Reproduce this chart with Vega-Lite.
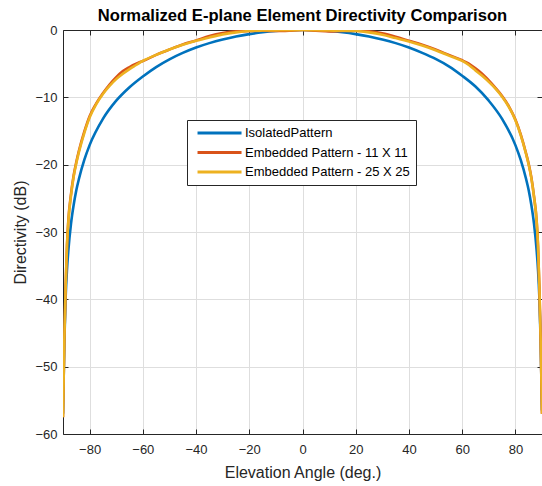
{
  "$schema": "https://vega.github.io/schema/vega-lite/v6.json",
  "width": 479,
  "height": 404,
  "autosize": {"type": "none"},
  "padding": {"left": 63, "top": 30, "right": 0, "bottom": 52},
  "background": "white",
  "title": {"text": "Normalized E-plane Element Directivity Comparison", "font": "Liberation Sans", "fontSize": 16.6, "fontWeight": "bold", "color": "#000000", "anchor": "middle", "offset": -1},
  "datasets": {
    "pat": [
      {"a": -90, "d": -57, "s": "IsolatedPattern"},
      {"a": -89.5, "d": -46.3, "s": "IsolatedPattern"},
      {"a": -89, "d": -39.6, "s": "IsolatedPattern"},
      {"a": -88.5, "d": -35.6, "s": "IsolatedPattern"},
      {"a": -88, "d": -32.8, "s": "IsolatedPattern"},
      {"a": -87, "d": -28.8, "s": "IsolatedPattern"},
      {"a": -86, "d": -26.0, "s": "IsolatedPattern"},
      {"a": -85, "d": -23.8, "s": "IsolatedPattern"},
      {"a": -84, "d": -22.1, "s": "IsolatedPattern"},
      {"a": -82, "d": -19.3, "s": "IsolatedPattern"},
      {"a": -80, "d": -17.1, "s": "IsolatedPattern"},
      {"a": -75, "d": -13.2, "s": "IsolatedPattern"},
      {"a": -70, "d": -10.5, "s": "IsolatedPattern"},
      {"a": -65, "d": -8.5, "s": "IsolatedPattern"},
      {"a": -60, "d": -6.9, "s": "IsolatedPattern"},
      {"a": -55, "d": -5.5, "s": "IsolatedPattern"},
      {"a": -50, "d": -4.35, "s": "IsolatedPattern"},
      {"a": -45, "d": -3.4, "s": "IsolatedPattern"},
      {"a": -40, "d": -2.6, "s": "IsolatedPattern"},
      {"a": -35, "d": -1.95, "s": "IsolatedPattern"},
      {"a": -30, "d": -1.41, "s": "IsolatedPattern"},
      {"a": -25, "d": -0.96, "s": "IsolatedPattern"},
      {"a": -20, "d": -0.61, "s": "IsolatedPattern"},
      {"a": -15, "d": -0.34, "s": "IsolatedPattern"},
      {"a": -10, "d": -0.15, "s": "IsolatedPattern"},
      {"a": -5, "d": -0.04, "s": "IsolatedPattern"},
      {"a": 0, "d": 0, "s": "IsolatedPattern"},
      {"a": 5, "d": -0.04, "s": "IsolatedPattern"},
      {"a": 10, "d": -0.15, "s": "IsolatedPattern"},
      {"a": 15, "d": -0.34, "s": "IsolatedPattern"},
      {"a": 20, "d": -0.61, "s": "IsolatedPattern"},
      {"a": 25, "d": -0.96, "s": "IsolatedPattern"},
      {"a": 30, "d": -1.41, "s": "IsolatedPattern"},
      {"a": 35, "d": -1.95, "s": "IsolatedPattern"},
      {"a": 40, "d": -2.6, "s": "IsolatedPattern"},
      {"a": 45, "d": -3.4, "s": "IsolatedPattern"},
      {"a": 50, "d": -4.3, "s": "IsolatedPattern"},
      {"a": 55, "d": -5.4, "s": "IsolatedPattern"},
      {"a": 60, "d": -6.8, "s": "IsolatedPattern"},
      {"a": 65, "d": -8.4, "s": "IsolatedPattern"},
      {"a": 70, "d": -10.5, "s": "IsolatedPattern"},
      {"a": 75, "d": -13.2, "s": "IsolatedPattern"},
      {"a": 80, "d": -17.1, "s": "IsolatedPattern"},
      {"a": 82, "d": -19.3, "s": "IsolatedPattern"},
      {"a": 84, "d": -22.1, "s": "IsolatedPattern"},
      {"a": 85, "d": -23.8, "s": "IsolatedPattern"},
      {"a": 86, "d": -26.0, "s": "IsolatedPattern"},
      {"a": 87, "d": -28.8, "s": "IsolatedPattern"},
      {"a": 88, "d": -32.8, "s": "IsolatedPattern"},
      {"a": 88.5, "d": -35.6, "s": "IsolatedPattern"},
      {"a": 89, "d": -39.6, "s": "IsolatedPattern"},
      {"a": 89.5, "d": -46.3, "s": "IsolatedPattern"},
      {"a": 90, "d": -56.5, "s": "IsolatedPattern"},

      {"a": -90, "d": -57.5, "s": "Embedded Pattern - 11 X 11"},
      {"a": -89.5, "d": -46, "s": "Embedded Pattern - 11 X 11"},
      {"a": -89, "d": -38, "s": "Embedded Pattern - 11 X 11"},
      {"a": -88.5, "d": -32, "s": "Embedded Pattern - 11 X 11"},
      {"a": -88, "d": -28.3, "s": "Embedded Pattern - 11 X 11"},
      {"a": -87, "d": -24.4, "s": "Embedded Pattern - 11 X 11"},
      {"a": -86, "d": -21.6, "s": "Embedded Pattern - 11 X 11"},
      {"a": -85, "d": -19.6, "s": "Embedded Pattern - 11 X 11"},
      {"a": -84, "d": -17.9, "s": "Embedded Pattern - 11 X 11"},
      {"a": -82, "d": -15.1, "s": "Embedded Pattern - 11 X 11"},
      {"a": -80, "d": -12.8, "s": "Embedded Pattern - 11 X 11"},
      {"a": -77.5, "d": -10.9, "s": "Embedded Pattern - 11 X 11"},
      {"a": -75, "d": -9.4, "s": "Embedded Pattern - 11 X 11"},
      {"a": -72.5, "d": -8.1, "s": "Embedded Pattern - 11 X 11"},
      {"a": -70, "d": -7.0, "s": "Embedded Pattern - 11 X 11"},
      {"a": -67.5, "d": -6.1, "s": "Embedded Pattern - 11 X 11"},
      {"a": -65, "d": -5.5, "s": "Embedded Pattern - 11 X 11"},
      {"a": -62.5, "d": -5.0, "s": "Embedded Pattern - 11 X 11"},
      {"a": -60, "d": -4.6, "s": "Embedded Pattern - 11 X 11"},
      {"a": -55, "d": -3.7, "s": "Embedded Pattern - 11 X 11"},
      {"a": -50, "d": -2.9, "s": "Embedded Pattern - 11 X 11"},
      {"a": -45, "d": -2.15, "s": "Embedded Pattern - 11 X 11"},
      {"a": -40, "d": -1.55, "s": "Embedded Pattern - 11 X 11"},
      {"a": -35, "d": -0.9, "s": "Embedded Pattern - 11 X 11"},
      {"a": -30, "d": -0.45, "s": "Embedded Pattern - 11 X 11"},
      {"a": -25, "d": -0.2, "s": "Embedded Pattern - 11 X 11"},
      {"a": -20, "d": -0.15, "s": "Embedded Pattern - 11 X 11"},
      {"a": -15, "d": -0.1, "s": "Embedded Pattern - 11 X 11"},
      {"a": -10, "d": -0.15, "s": "Embedded Pattern - 11 X 11"},
      {"a": -5, "d": -0.1, "s": "Embedded Pattern - 11 X 11"},
      {"a": 0, "d": 0, "s": "Embedded Pattern - 11 X 11"},
      {"a": 5, "d": -0.1, "s": "Embedded Pattern - 11 X 11"},
      {"a": 10, "d": -0.2, "s": "Embedded Pattern - 11 X 11"},
      {"a": 15, "d": -0.15, "s": "Embedded Pattern - 11 X 11"},
      {"a": 20, "d": -0.1, "s": "Embedded Pattern - 11 X 11"},
      {"a": 25, "d": -0.2, "s": "Embedded Pattern - 11 X 11"},
      {"a": 30, "d": -0.5, "s": "Embedded Pattern - 11 X 11"},
      {"a": 35, "d": -1.0, "s": "Embedded Pattern - 11 X 11"},
      {"a": 40, "d": -1.6, "s": "Embedded Pattern - 11 X 11"},
      {"a": 45, "d": -2.2, "s": "Embedded Pattern - 11 X 11"},
      {"a": 50, "d": -2.9, "s": "Embedded Pattern - 11 X 11"},
      {"a": 55, "d": -3.7, "s": "Embedded Pattern - 11 X 11"},
      {"a": 60, "d": -4.5, "s": "Embedded Pattern - 11 X 11"},
      {"a": 62.5, "d": -5.0, "s": "Embedded Pattern - 11 X 11"},
      {"a": 65, "d": -5.7, "s": "Embedded Pattern - 11 X 11"},
      {"a": 67.5, "d": -6.5, "s": "Embedded Pattern - 11 X 11"},
      {"a": 70, "d": -7.5, "s": "Embedded Pattern - 11 X 11"},
      {"a": 72.5, "d": -8.6, "s": "Embedded Pattern - 11 X 11"},
      {"a": 75, "d": -9.8, "s": "Embedded Pattern - 11 X 11"},
      {"a": 77.5, "d": -11.3, "s": "Embedded Pattern - 11 X 11"},
      {"a": 80, "d": -13.3, "s": "Embedded Pattern - 11 X 11"},
      {"a": 82, "d": -15.5, "s": "Embedded Pattern - 11 X 11"},
      {"a": 84, "d": -18.3, "s": "Embedded Pattern - 11 X 11"},
      {"a": 85, "d": -19.9, "s": "Embedded Pattern - 11 X 11"},
      {"a": 86, "d": -21.9, "s": "Embedded Pattern - 11 X 11"},
      {"a": 87, "d": -24.7, "s": "Embedded Pattern - 11 X 11"},
      {"a": 88, "d": -28.4, "s": "Embedded Pattern - 11 X 11"},
      {"a": 88.5, "d": -32, "s": "Embedded Pattern - 11 X 11"},
      {"a": 89, "d": -38, "s": "Embedded Pattern - 11 X 11"},
      {"a": 89.5, "d": -46, "s": "Embedded Pattern - 11 X 11"},
      {"a": 90, "d": -57, "s": "Embedded Pattern - 11 X 11"},

      {"a": -90, "d": -57.5, "s": "Embedded Pattern - 25 X 25"},
      {"a": -89.5, "d": -46, "s": "Embedded Pattern - 25 X 25"},
      {"a": -89, "d": -38, "s": "Embedded Pattern - 25 X 25"},
      {"a": -88.5, "d": -32, "s": "Embedded Pattern - 25 X 25"},
      {"a": -88, "d": -28.5, "s": "Embedded Pattern - 25 X 25"},
      {"a": -87, "d": -24.6, "s": "Embedded Pattern - 25 X 25"},
      {"a": -86, "d": -21.8, "s": "Embedded Pattern - 25 X 25"},
      {"a": -85, "d": -19.8, "s": "Embedded Pattern - 25 X 25"},
      {"a": -84, "d": -18.1, "s": "Embedded Pattern - 25 X 25"},
      {"a": -82, "d": -15.3, "s": "Embedded Pattern - 25 X 25"},
      {"a": -80, "d": -13.0, "s": "Embedded Pattern - 25 X 25"},
      {"a": -77.5, "d": -11.0, "s": "Embedded Pattern - 25 X 25"},
      {"a": -75, "d": -9.5, "s": "Embedded Pattern - 25 X 25"},
      {"a": -72.5, "d": -8.3, "s": "Embedded Pattern - 25 X 25"},
      {"a": -70, "d": -7.3, "s": "Embedded Pattern - 25 X 25"},
      {"a": -67.5, "d": -6.5, "s": "Embedded Pattern - 25 X 25"},
      {"a": -65, "d": -5.8, "s": "Embedded Pattern - 25 X 25"},
      {"a": -62.5, "d": -5.2, "s": "Embedded Pattern - 25 X 25"},
      {"a": -60, "d": -4.6, "s": "Embedded Pattern - 25 X 25"},
      {"a": -55, "d": -3.7, "s": "Embedded Pattern - 25 X 25"},
      {"a": -50, "d": -2.9, "s": "Embedded Pattern - 25 X 25"},
      {"a": -45, "d": -2.2, "s": "Embedded Pattern - 25 X 25"},
      {"a": -40, "d": -1.6, "s": "Embedded Pattern - 25 X 25"},
      {"a": -35, "d": -1.1, "s": "Embedded Pattern - 25 X 25"},
      {"a": -30, "d": -0.65, "s": "Embedded Pattern - 25 X 25"},
      {"a": -25, "d": -0.35, "s": "Embedded Pattern - 25 X 25"},
      {"a": -20, "d": -0.15, "s": "Embedded Pattern - 25 X 25"},
      {"a": -15, "d": -0.08, "s": "Embedded Pattern - 25 X 25"},
      {"a": -10, "d": -0.05, "s": "Embedded Pattern - 25 X 25"},
      {"a": -5, "d": -0.02, "s": "Embedded Pattern - 25 X 25"},
      {"a": 0, "d": 0, "s": "Embedded Pattern - 25 X 25"},
      {"a": 5, "d": -0.03, "s": "Embedded Pattern - 25 X 25"},
      {"a": 10, "d": -0.08, "s": "Embedded Pattern - 25 X 25"},
      {"a": 15, "d": -0.1, "s": "Embedded Pattern - 25 X 25"},
      {"a": 20, "d": -0.15, "s": "Embedded Pattern - 25 X 25"},
      {"a": 25, "d": -0.35, "s": "Embedded Pattern - 25 X 25"},
      {"a": 30, "d": -0.7, "s": "Embedded Pattern - 25 X 25"},
      {"a": 35, "d": -1.2, "s": "Embedded Pattern - 25 X 25"},
      {"a": 40, "d": -1.7, "s": "Embedded Pattern - 25 X 25"},
      {"a": 45, "d": -2.3, "s": "Embedded Pattern - 25 X 25"},
      {"a": 50, "d": -3.0, "s": "Embedded Pattern - 25 X 25"},
      {"a": 55, "d": -3.8, "s": "Embedded Pattern - 25 X 25"},
      {"a": 60, "d": -4.6, "s": "Embedded Pattern - 25 X 25"},
      {"a": 62.5, "d": -5.2, "s": "Embedded Pattern - 25 X 25"},
      {"a": 65, "d": -6.0, "s": "Embedded Pattern - 25 X 25"},
      {"a": 67.5, "d": -6.8, "s": "Embedded Pattern - 25 X 25"},
      {"a": 70, "d": -7.7, "s": "Embedded Pattern - 25 X 25"},
      {"a": 72.5, "d": -8.7, "s": "Embedded Pattern - 25 X 25"},
      {"a": 75, "d": -9.9, "s": "Embedded Pattern - 25 X 25"},
      {"a": 77.5, "d": -11.4, "s": "Embedded Pattern - 25 X 25"},
      {"a": 80, "d": -13.4, "s": "Embedded Pattern - 25 X 25"},
      {"a": 82, "d": -15.6, "s": "Embedded Pattern - 25 X 25"},
      {"a": 84, "d": -18.4, "s": "Embedded Pattern - 25 X 25"},
      {"a": 85, "d": -20.0, "s": "Embedded Pattern - 25 X 25"},
      {"a": 86, "d": -22.0, "s": "Embedded Pattern - 25 X 25"},
      {"a": 87, "d": -24.8, "s": "Embedded Pattern - 25 X 25"},
      {"a": 88, "d": -28.5, "s": "Embedded Pattern - 25 X 25"},
      {"a": 88.5, "d": -32, "s": "Embedded Pattern - 25 X 25"},
      {"a": 89, "d": -38, "s": "Embedded Pattern - 25 X 25"},
      {"a": 89.5, "d": -46, "s": "Embedded Pattern - 25 X 25"},
      {"a": 90, "d": -57, "s": "Embedded Pattern - 25 X 25"}
    ]
  },
  "data": {"name": "pat"},
  "layer": [
    {
      "mark": {"type": "line", "strokeWidth": 2.6, "interpolate": "monotone", "clip": true},
      "encoding": {
        "x": {"field": "a", "type": "quantitative", "scale": {"domain": [-90, 90], "nice": false, "zero": false},
          "axis": {"values": [-80, -60, -40, -20, 0, 20, 40, 60, 80], "title": "Elevation Angle (deg.)", "grid": true, "labelPadding": 14, "titlePadding": 8}},
        "y": {"field": "d", "type": "quantitative", "scale": {"domain": [-60, 0], "nice": false, "zero": false},
          "axis": {"values": [-60, -50, -40, -30, -20, -10, 0], "title": "Directivity (dB)", "grid": true, "labelPadding": 11, "titlePadding": 6}},
        "color": {"field": "s", "type": "nominal",
          "scale": {"domain": ["IsolatedPattern", "Embedded Pattern - 11 X 11", "Embedded Pattern - 25 X 25"], "range": ["#0072BD", "#D95319", "#EDB120"]},
          "legend": {"orient": "none", "legendX": 124, "legendY": 90, "title": null, "strokeColor": "#262626", "fillColor": "white", "padding": 6,
            "symbolType": "M-0.45,0H7.55", "symbolSize": 121, "symbolStrokeWidth": 3, "symbolFillColor": "transparent",
            "labelFont": "Liberation Sans", "labelFontSize": 13, "labelColor": "#000000", "labelOffset": 38, "labelLimit": 0, "rowPadding": 5.5}}
      }
    },
    {
      "mark": {"type": "point", "opacity": 0},
      "encoding": {
        "x": {"field": "a", "type": "quantitative", "axis": {"orient": "top", "labels": false, "title": null, "grid": false, "values": [-80, -60, -40, -20, 0, 20, 40, 60, 80]}},
        "y": {"field": "d", "type": "quantitative", "axis": {"orient": "right", "labels": false, "title": null, "grid": false, "values": [-60, -50, -40, -30, -20, -10, 0]}}
      }
    }
  ],
  "resolve": {"axis": {"x": "independent", "y": "independent"}},
  "config": {
    "view": {"stroke": null},
    "axis": {"domainColor": "#262626", "domainWidth": 1, "tickColor": "#262626", "tickSize": -5, "tickWidth": 1, "labelColor": "#262626", "labelFont": "Liberation Sans", "labelFontSize": 13, "titleFont": "Liberation Sans", "titleFontSize": 16, "titleFontWeight": "normal", "titleColor": "#262626", "gridColor": "#dedede", "gridWidth": 1}
  }
}
